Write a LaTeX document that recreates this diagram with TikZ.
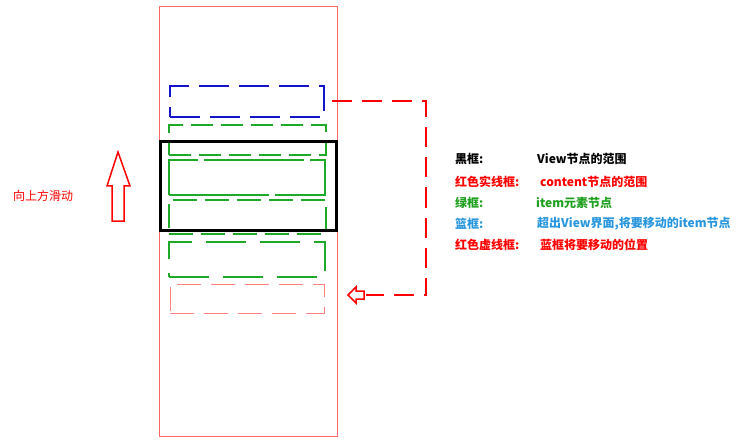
\documentclass[tikz,border=0pt]{standalone}
\usepackage{fontspec}
\newfontfamily\cjk{Noto Sans CJK SC}
\usetikzlibrary{positioning,calc}
\definecolor{itemgreen}{RGB}{30,170,40}
\definecolor{movblue}{RGB}{20,20,200}
\definecolor{txtblue}{RGB}{40,150,220}
\definecolor{txtgreen}{RGB}{30,160,30}
\tikzset{
  box/.style={draw, inner sep=0pt, minimum width=156pt},
  itembox/.style={box, itemgreen, line width=2pt},
  legend/.style={anchor=west, inner sep=0pt, font=\cjk\bfseries\fontsize{12}{14}\selectfont},
}
\begin{document}
\begin{tikzpicture}[x=1pt,y=-1pt]
        \useasboundingbox (0,0) rectangle (750,441);

        % content frame
        \node[box, red!60, line width=0.8pt, minimum width=178pt, minimum height=430pt] (content) at (248,221) {};

        % item boxes
        \node[itembox, minimum width=157pt, minimum height=30pt, dash pattern=on 22pt off 8pt] (item1) at (247.5,140) {};
        \node[itembox, minimum height=35pt, dash pattern=on 100pt off 6pt] (item2) at (247,177.5) {};
        \node[itembox, minimum width=157pt, minimum height=34pt, dash pattern=on 24pt off 8pt] (item3) at (247.5,217) {};
        \node[itembox, minimum height=35pt, dash pattern=on 40pt off 14pt] (item4) at (247,259.5) {};

        % box to move, and where it goes
        \node[box, movblue, line width=2pt, minimum width=154pt, minimum height=31pt, dash pattern=on 30pt off 10pt] (moving) at (247,101.5) {};
        \node[box, red!50, line width=0.8pt, minimum width=154pt, minimum height=29pt, dash pattern=on 24pt off 10pt] (target) at (247,298.5) {};

        % View frame
        \node[box, black, line width=3pt, minimum width=176pt, minimum height=88pt] (view) at (248,186) {};

        % move path
        \coordinate (back) at (366,295);
        \draw[red, line width=2pt, dash pattern=on 20pt off 10pt, shorten <=7pt] (moving.east) -- ++(101,0) |- (back);
        \draw[red, line width=1.5pt, fill=white] (348,295) -- (356,287) -- (356,291) -- (364,291) -- (364,299) -- (356,299) -- (356,303) -- cycle;

        % scroll direction
        \draw[red, line width=1.5pt] (118,152) -- (130,186) -- (124,186) -- (124,221) -- (112,221) -- (112,186) -- (107,186) -- cycle;
        \node[anchor=west, inner sep=0pt, text=red, font=\cjk\fontsize{12}{14}\selectfont] (scroll) at (13,196) {向上方滑动};

        % legend
        \node[legend, text=black] (k1) at (455,159) {黑框:};
        \node[legend, text=red] (k2) at (455,182) {红色实线框:};
        \node[legend, text=txtgreen] (k3) at (455,203) {绿框:};
        \node[legend, text=txtblue] (k4) at (455,224) {篮框:};
        \node[legend, text=red] (k5) at (455,245) {红色虚线框:};
        \node[legend, text=black] (v1) at (537,159) {View节点的范围};
        \node[legend, text=red] (v2) at (540,182) {content节点的范围};
        \node[legend, text=txtgreen] (v3) at (536,203) {item元素节点};
        \node[legend, text=txtblue] (v4) at (537,224) {超出View界面,将要移动的item节点};
        \node[legend, text=red] (v5) at (540,245) {蓝框将要移动的位置};
\end{tikzpicture}
\end{document}
